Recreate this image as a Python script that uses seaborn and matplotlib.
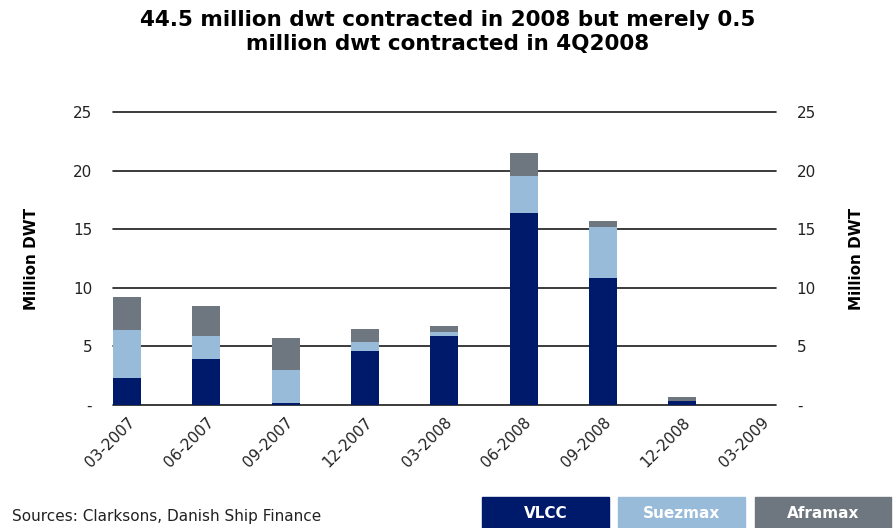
import pandas as pd
import matplotlib
matplotlib.use("Agg")
import matplotlib.pyplot as plt
import seaborn as sns
from matplotlib.patches import Rectangle
from matplotlib.ticker import FuncFormatter

# Data (million dwt contracted per quarter)
quarters = ["03-2007", "06-2007", "09-2007", "12-2007", "03-2008",
            "06-2008", "09-2008", "12-2008", "03-2009"]
vlcc = [2.3, 3.9, 0.2, 4.6, 5.9, 16.4, 10.85, 0.3, 0.0]
suezmax = [4.1, 2.0, 2.8, 0.8, 0.3, 3.1, 4.35, 0.05, 0.0]
aframax = [2.8, 2.55, 2.7, 1.1, 0.55, 2.0, 0.5, 0.3, 0.0]
y_ticks = [0, 5, 10, 15, 20, 25]

#Colours
c_vlcc = "#001A6B"
c_suez = "#99BBDA"
c_afra = "#6E7780"

df = pd.DataFrame({"Quarter": quarters, "VLCC": vlcc,
                   "Suezmax": suezmax, "Aframax": aframax})
df["VLCC+Suez"] = df["VLCC"] + df["Suezmax"]
df["Total"] = df["VLCC+Suez"] + df["Aframax"]

sns.set_style("white")
plt.rcParams["font.family"] = ["Verdana", "DejaVu Sans"]
plt.rcParams["text.color"] = "black"

fig = plt.figure(figsize=(8.96, 5.28), dpi=100)
ax = fig.add_axes([0.126, 0.233, 0.74, 0.555])

#Stacked bars by layering cumulative totals
for col, c in [("Total", c_afra), ("VLCC+Suez", c_suez), ("VLCC", c_vlcc)]:
    sns.barplot(data=df, x="Quarter", y=col, color=c, width=0.35,
                saturation=1, linewidth=0, ax=ax, zorder=3)

ax.set_xlim(-0.177, 8.18)
ax.set_ylim(0, 25)
ax.set_yticks(y_ticks)
for t in y_ticks:
    ax.axhline(t, color="#1A1A1A", lw=1.2, zorder=2, clip_on=False)

fmt = FuncFormatter(lambda v, p: "-" if v == 0 else f"{v:.0f}")
ax.yaxis.set_major_formatter(fmt)
ax.tick_params(axis="y", length=0, pad=15, labelsize=11, labelcolor="#222222")
ax.tick_params(axis="x", length=0, pad=7, labelsize=11, labelcolor="#222222")
plt.setp(ax.get_xticklabels(), rotation=45, ha="right", rotation_mode="anchor")
ax.set_xlabel("")
ax.set_ylabel("Million DWT", fontsize=11, fontweight="bold", labelpad=24, color="black")
for s in ax.spines.values():
    s.set_visible(False)

#Right axis mirrors the left
ax2 = ax.twinx()
ax2.set_ylim(0, 25)
ax2.set_yticks(y_ticks)
ax2.yaxis.set_major_formatter(fmt)
ax2.tick_params(axis="y", length=0, pad=15, labelsize=11, labelcolor="#222222")
ax2.set_ylabel("Million DWT", fontsize=11, fontweight="bold", labelpad=24, color="black")
for s in ax2.spines.values():
    s.set_visible(False)

fig.suptitle("44.5 million dwt contracted in 2008 but merely 0.5\nmillion dwt contracted in 4Q2008",
             x=0.5, y=0.982, fontsize=15.5, fontweight="bold", linespacing=1.25, color="black")

fig.text(0.013, 0.021, "Sources: Clarksons, Danish Ship Finance", fontsize=11,
         color="#222222", va="center")

#Legend boxes at the bottom
legend_items = [("VLCC", c_vlcc, 482), ("Suezmax", c_suez, 618), ("Aframax", c_afra, 755)]
for name, col, x0 in legend_items:
    w = 127 if name != "Aframax" else 136
    fig.patches.append(Rectangle((x0 / 896, 0), w / 896, 31 / 528,
                                 transform=fig.transFigure, color=col, zorder=0))
    fig.text((x0 + w / 2) / 896, 15 / 528, name, color="white", fontsize=11,
             fontweight="bold", ha="center", va="center")

plt.savefig("out.png", dpi=100)
